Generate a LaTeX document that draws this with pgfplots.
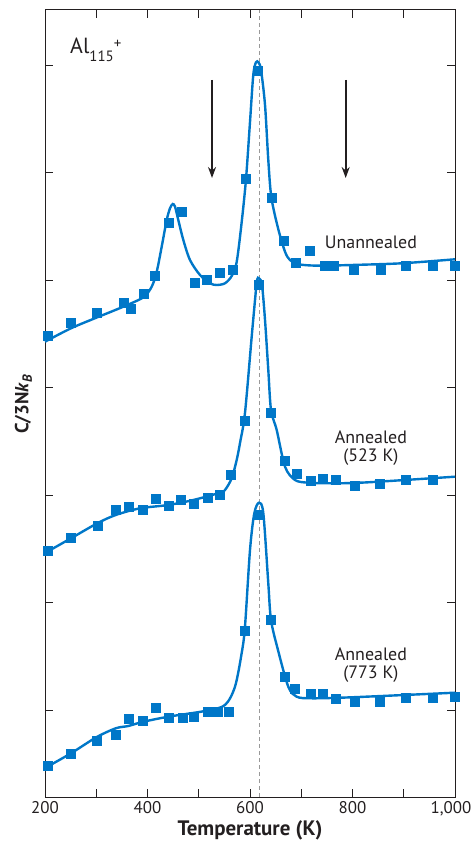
\documentclass[border=0pt]{standalone}
\usepackage{fontspec}
\setmainfont{PT Sans}
\usepackage{pgfplots}
\pgfplotsset{compat=1.18}
\usetikzlibrary{arrows.meta}
\definecolor{cblue}{RGB}{0,119,200}
\definecolor{txt}{RGB}{35,31,32}
\begin{document}
\begin{tikzpicture}
\begin{axis}[
  at={(0,0)}, anchor=south west,
  scale only axis, width=410bp, height=787bp,
  xmin=200, xmax=1000, ymin=0, ymax=787,
  xtick={200,400,600,800,1000}, xticklabels={200,400,600,800,{\kern-8bp 1{,}000}},
  minor xtick={300,500,700,900},
  ytick={87,194.5,302,409.5,517,624.5,732}, yticklabels={},
  tick align=inside, major tick length=8bp, minor tick length=8bp,
  tick style={txt, line width=0.8bp},
  axis line style={txt, line width=1bp},
  ticklabel style={font=\fontsize{17}{20}\selectfont, text=txt},
  /pgf/number format/assume math mode=true,
  xticklabel style={yshift=-1bp},
  clip=false,
]
% dashed reference line
\draw[gray!80, line width=0.9bp, dash pattern=on 4bp off 3bp] (axis cs:617.6,0) -- (axis cs:617.6,787);
% arrows
\draw[txt, line width=1.8bp, -{Stealth[length=11bp,width=8bp]}] (axis cs:525.9,717) -- (axis cs:525.9,619);
\draw[txt, line width=1.8bp, -{Stealth[length=11bp,width=8bp]}] (axis cs:786.7,717) -- (axis cs:786.7,619);

% ---- Unannealed: fit curve
\addplot[cblue, line width=2.4bp, smooth, tension=0.5] coordinates {
(200,455.3) (250.7,468.7) (300.1,479.3) (352.8,490.3) (391.8,499.7) (408.2,510.3)
(418.0,525.3) (427.7,550.3) (437.5,577) (443.9,588.7) (449.2,593) (453.7,590.3)
(460.1,577) (469.9,557) (482.9,537) (502.4,522) (522.0,513.7) (535.0,512)
(551.2,513.7) (564.3,521) (574.0,535) (583.8,575) (592.2,618) (600.0,675)
(606.4,722) (611.7,734.7) (616.6,734.5) (621.5,727) (629.3,692) (635.7,637)
(641.6,600) (654.6,569) (668.3,545.3) (678.0,537) (694.3,532.7) (733.3,531.3)
(798.4,532) (896.0,533.7) (1000,537.7)};
\addplot[only marks, mark=square*, mark size=4.5bp, cblue] coordinates {
(204.5,461.3) (250.7,474.7) (300.1,484.3) (352.8,494.3) (366.4,488) (391.8,503.7)
(413.3,521.7) (440.6,574.7) (466.7,585.7) (491.3,514.7) (514.7,517) (540.1,524)
(565.5,527.7) (592.2,618) (614.2,726.3) (641.6,599.7) (666.3,556) (689.8,534.7)
(715.7,546) (746.3,531) (762.5,531) (802.9,527.7) (854.2,527.7) (903.0,531)
(955.7,531) (998.6,531)};

% ---- Annealed 523 K
\addplot[cblue, line width=2.4bp, smooth, tension=0.5] coordinates {
(200,244) (250.7,258.7) (302.0,273.7) (338.0,282) (385.4,288.7) (440.6,292)
(489.4,297) (541.5,304.3) (551.2,307) (564.3,318.7) (574.0,337) (580.5,354)
(590.2,384) (603.3,460.3) (609.8,497) (613.7,517) (617.6,518.7) (623.4,512)
(629.3,477) (635.7,427) (641.0,387) (652.1,367) (668.3,330.3) (687.8,317)
(713.8,314.3) (765.9,313.7) (830.8,314.7) (1000,320.3)};
\addplot[only marks, mark=square*, mark size=4.5bp, cblue] coordinates {
(204.5,246.3) (250.7,259.7) (302.0,271) (338.0,287.7) (362.5,290.3) (389.9,287.7)
(415.2,298.7) (440.6,291) (464.8,297.7) (489.4,293.7) (516.7,299.7) (541.5,302.7)
(562.9,322.7) (588.9,376) (616.2,512) (639.6,384.7) (666.9,336.7) (691.7,323)
(717.7,316.7) (741.1,318.7) (766.4,317) (803.5,311.3) (852.3,313.7) (903.0,317)
(955.7,317)};

% ---- Annealed 773 K
\addplot[cblue, line width=2.4bp, smooth, tension=0.5] coordinates {
(200,29) (250.7,43.7) (300.1,59.7) (338.0,68.7) (362.5,71) (389.9,75) (440.6,80.3)
(515.5,86.3) (551.2,92) (570.7,110.3) (583.8,144) (590.2,170.3) (600.0,247)
(608.4,283.7) (617.6,294.3) (626.0,283.7) (635.7,213.7) (641.0,177) (654.6,147)
(674.7,110.3) (691.1,100.3) (720.4,98.7) (798.4,99.7) (1000,104.3)};
\addplot[only marks, mark=square*, mark size=4.5bp, cblue] coordinates {
(204.5,31) (250.7,43.7) (300.1,56) (338.0,62.7) (362.5,78.7) (389.9,76)
(415.2,89) (440.6,79.7) (467.9,79) (489.4,80.3) (516.7,85) (536.2,85)
(557.7,85) (588.9,166) (616.2,282) (641.0,177) (666.9,120.3) (686.4,108.7)
(717.7,103.7) (741.1,103.7) (766.4,98.7) (803.5,95.3) (852.3,95.3) (903.0,99.7)
(955.7,99.7) (998.6,100.3)};

% labels
\node[anchor=base west, text=txt, inner sep=0pt] at (axis cs:248.8,743)
  {\fontsize{22}{26}\selectfont Al\raisebox{-0.32em}{\fontsize{15}{18}\selectfont 115}\raisebox{0.27em}{\fontsize{15}{18}\selectfont +}};
\node[anchor=base, text=txt, inner sep=0pt, font=\fontsize{18}{21}\selectfont] at (axis cs:836,548) {Unannealed};
\node[anchor=base, text=txt, inner sep=0pt, font=\fontsize{18}{21}\selectfont] at (axis cs:836,353) {Annealed};
\node[anchor=base, text=txt, inner sep=0pt, font=\fontsize{18}{21}\selectfont] at (axis cs:836,335) {(523 K)};
\node[anchor=base, text=txt, inner sep=0pt, font=\fontsize{18}{21}\selectfont] at (axis cs:836,136.3) {Annealed};
\node[anchor=base, text=txt, inner sep=0pt, font=\fontsize{18}{21}\selectfont] at (axis cs:836,118.7) {(773 K)};
\node[anchor=base, text=txt, inner sep=0pt, font=\fontsize{21}{24}\selectfont\bfseries] at (axis cs:600,-38.5) {Temperature (K)};
\node[anchor=base, rotate=90, text=txt, inner sep=0pt, font=\fontsize{19}{22}\selectfont\bfseries] at (axis cs:167.8,393) {C/3N\textit{k}\textsubscript{\textit{B}}};
\end{axis}
\pgfresetboundingbox
\path[use as bounding box] (-45bp,-45bp) rectangle (428bp,797bp);
\end{tikzpicture}
\end{document}
